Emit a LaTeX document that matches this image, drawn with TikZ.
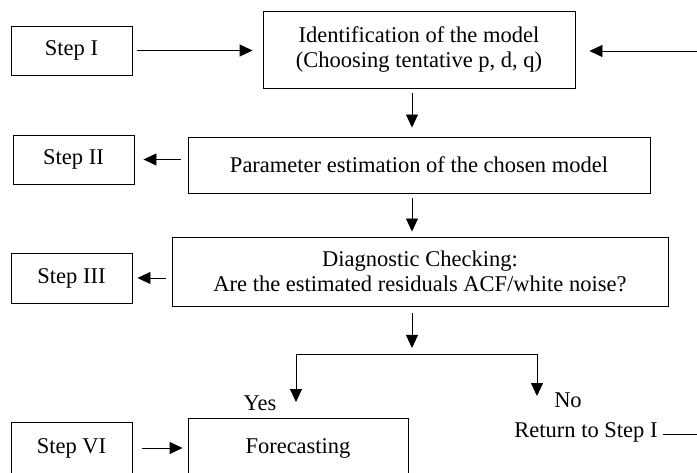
\documentclass[tikz,border=0pt]{standalone}
\usepackage{fontspec}
\setmainfont{Liberation Serif}
\usetikzlibrary{arrows.meta}
\tikzset{
  x=1pt,y=1pt,
  every node/.style={font=\fontsize{22.5}{25}\selectfont, inner sep=0pt},
  box/.style={draw, line width=0.9pt, align=center},
  arr/.style={line width=0.9pt, -{Triangle[length=13pt,width=12pt]}},
  ln/.style={line width=0.9pt}
}
\begin{document}
\begin{tikzpicture}
\useasboundingbox (0,0) rectangle (697,472);
\clip (0,0) rectangle (697,472);
% boxes
\node[box, minimum width=121pt, minimum height=49pt] (s1) at (71.5,421.5) {Step I};
\node[box, minimum width=312pt, minimum height=77pt] (ident) at (419,422.5) {Identification of the model\\(Choosing tentative p, d, q)};
\node[box, minimum width=121pt, minimum height=49pt] (s2) at (73.5,312.5) {Step II};
\node[box, minimum width=462pt, minimum height=56pt] (param) at (419,307) {Parameter estimation of the chosen model};
\node[box, minimum width=121pt, minimum height=50pt] (s3) at (71.5,194) {Step III};
\node[box, minimum width=496pt, minimum height=69pt] (diag) at (420,200.5) {Diagnostic Checking:\\Are the estimated residuals ACF/white noise?};
\node[box, minimum width=121pt, minimum height=52pt] (s6) at (71.5,24) {Step VI};
\node[box, minimum width=220pt, minimum height=60pt] (fc) at (298,24) {Forecasting};
% labels
\node[anchor=base] (yes) at (260,62) {Yes};
\node[anchor=base] (no) at (568,64) {No};
\node[anchor=base] (ret) at (586,35) {Return to Step I};
% coordinates
\coordinate (redge) at (697,421);
\coordinate (split) at (412,118);
\coordinate (yesTop) at (296,118);
\coordinate (noTop) at (537,118);
\coordinate (yesEnd) at (296,70);
\coordinate (noEnd) at (537,76);
\coordinate (retA) at ([shift={(5pt,3pt)}]ret.base east);
\coordinate (retEnd) at (retA -| redge);
% connectors
\draw[arr, shorten <=5pt, shorten >=10pt] (s1.east) -- (s1.east -| ident.west);
\draw[arr, shorten >=14pt] (redge) -- (redge -| ident.east);
\draw[arr, shorten <=5pt, shorten >=9pt] ([xshift=-7pt]ident.south) -- ([xshift=-7pt]param.north);
\draw[arr, shorten <=7pt, shorten >=9pt] (s2.east -| param.west) -- (s2.east);
\draw[arr, shorten <=5pt, shorten >=5pt] ([xshift=-7pt]param.south) -- ([xshift=-8pt]diag.north);
\draw[arr, shorten <=6pt, shorten >=5pt] (s3.east -| diag.west) -- (s3.east);
\draw[arr, shorten <=7pt, shorten >=6pt] ([xshift=-8pt]diag.south) -- (split);
\draw[ln] (yesTop) -- (noTop);
\draw[arr] (yesTop) -- (yesEnd);
\draw[arr] (noTop) -- (noEnd);
\draw[arr, shorten <=10pt, shorten >=5pt] (s6.east) -- (s6.east -| fc.west);
\draw[ln] (retA) -- (retEnd);
\end{tikzpicture}
\end{document}
